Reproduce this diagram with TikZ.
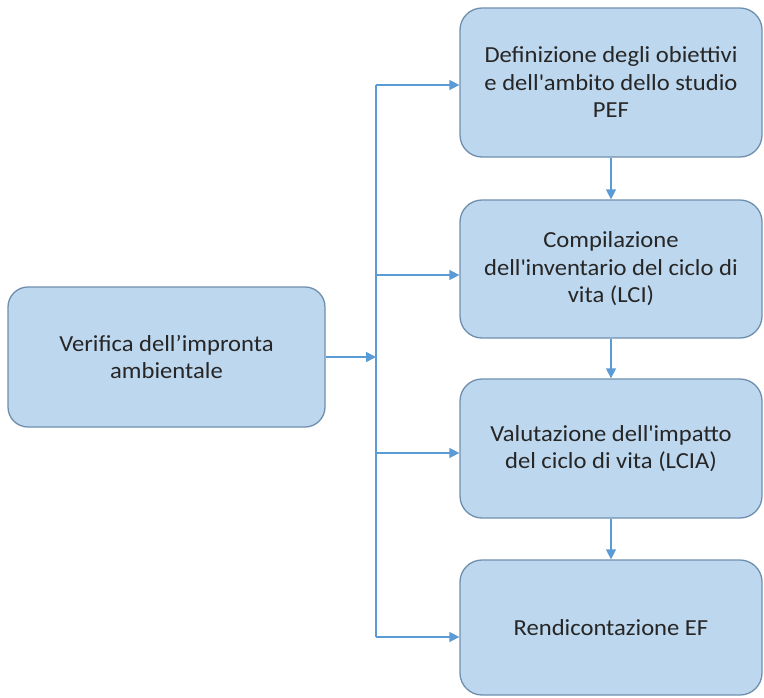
\documentclass[tikz,border=0pt]{standalone}
\usepackage{fontspec}
\setmainfont{Carlito}[FakeStretch=1.07]
\usetikzlibrary{arrows.meta}
\definecolor{boxfill}{HTML}{BDD7EE}
\definecolor{boxdraw}{HTML}{6F8FAF}
\definecolor{linecol}{HTML}{5B9BD5}
\definecolor{txt}{HTML}{262626}
\tikzset{
  box/.style={draw=boxdraw, line width=1.3pt, fill=boxfill, rounded corners=22pt,
    text=txt, align=center, font=\fontsize{23}{27.5}\selectfont, inner sep=0pt},
  conn/.style={draw=linecol, line width=1.5pt},
  arr/.style={conn, -{Triangle[length=10pt,width=10pt]}}
}
\begin{document}
\begin{tikzpicture}[x=1pt,y=-1pt]
\useasboundingbox (0,0) rectangle (764,697);
\node[box, minimum width=317pt, minimum height=140pt, rounded corners=20pt] (b0) at (166.5,357) {Verifica dell’impronta\\ambientale};
\node[box, minimum width=302pt, minimum height=149pt] (b1) at (611,82.5) {Definizione degli obiettivi\\e dell\textquotesingle ambito dello studio\\PEF};
\node[box, minimum width=302pt, minimum height=138pt] (b2) at (611,269) {\raisebox{0pt}{}Compilazione\\dell\textquotesingle inventario del ciclo di\\vita (LCI)};
\node[box, minimum width=302pt, minimum height=139pt] (b3) at (611,448.5) {Valutazione dell\textquotesingle impatto\\del ciclo di vita (LCIA)};
\node[box, minimum width=302pt, minimum height=135pt] (b4) at (611,627.5) {Rendicontazione EF};
\coordinate (t0) at (376,357);
\coordinate (t1) at (376,85);
\coordinate (t2) at (376,275);
\coordinate (t3) at (376,453);
\coordinate (t4) at (376,637);
\draw[conn] (t1) -- (t4);
\draw[arr] (b0.east) -- (t0);
\draw[arr] (t1) -- ([yshift=-2.5pt]b1.west);
\draw[arr] (t2) -- ([yshift=-6pt]b2.west);
\draw[arr] (t3) -- ([yshift=-4.5pt]b3.west);
\draw[arr] (t4) -- ([yshift=-9.5pt]b4.west);
\draw[arr] (b1.south) -- (b2.north);
\draw[arr] (b2.south) -- (b3.north);
\draw[arr] (b3.south) -- (b4.north);
\end{tikzpicture}
\end{document}
